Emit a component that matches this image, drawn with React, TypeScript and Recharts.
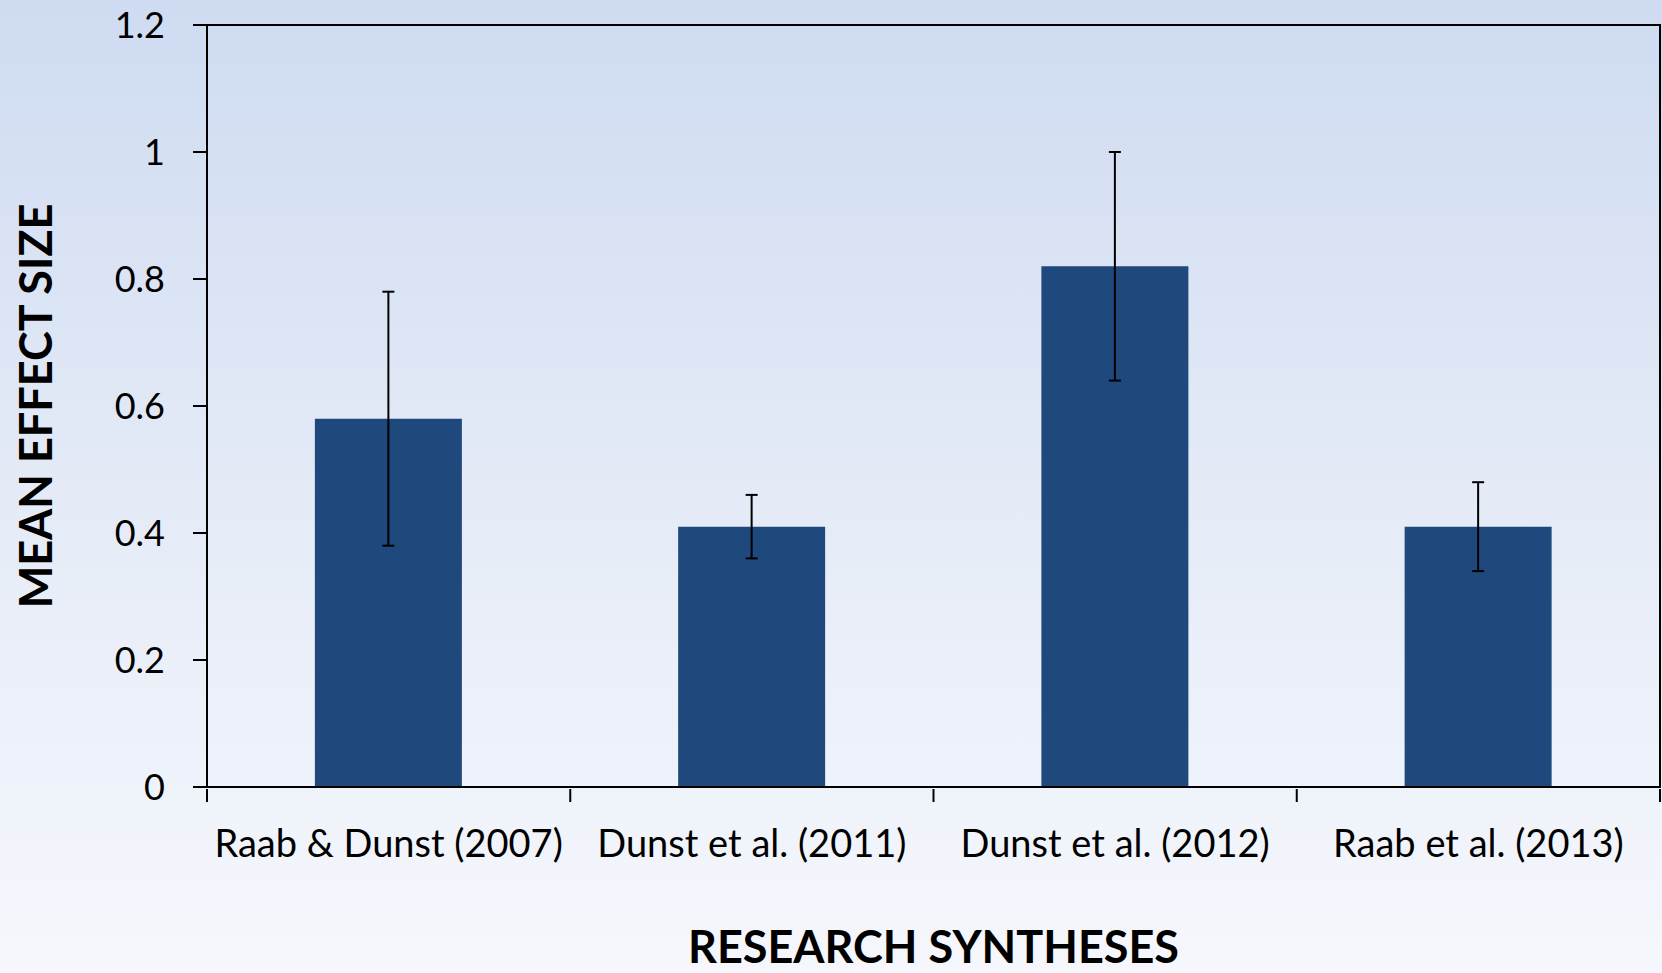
import React from 'react';
import { BarChart, Bar, XAxis, YAxis, ErrorBar, ReferenceArea, Label } from 'recharts';

// Mean effect sizes with confidence interval bounds per research synthesis
const studies = ['Raab & Dunst (2007)', 'Dunst et al. (2011)', 'Dunst et al. (2012)', 'Raab et al. (2013)'];
const meanEffect = [0.58, 0.41, 0.82, 0.41];
const ciLower = [0.38, 0.36, 0.64, 0.34];
const ciUpper = [0.78, 0.46, 1.0, 0.48];
const yTicks = [0, 0.2, 0.4, 0.6, 0.8, 1, 1.2];

const data = studies.map((name, i) => ({
  name,
  value: meanEffect[i],
  err: [meanEffect[i] - ciLower[i], ciUpper[i] - meanEffect[i]],
}));

const FONT = 'Lato, "Open Sans", sans-serif';

// category label plus tick marks on the band edges (Excel style)
function CategoryTick(props: any) {
  const { x, y, payload, index } = props;
  const half = payload?.offset ?? 0;
  return (
    <g>
      <line x1={x - half} y1={y} x2={x - half} y2={y + 13} stroke="#000" strokeWidth={2} />
      {index === studies.length - 1 && (
        <line x1={x + half} y1={y} x2={x + half} y2={y + 13} stroke="#000" strokeWidth={2} />
      )}
      <text x={x} y={y + 41} dy="0.71em" textAnchor="middle" fill="#000" fontSize={38} fontFamily={FONT}>
        {payload.value}
      </text>
    </g>
  );
}

export default function App() {
  return (
    <div
      style={{
        width: 1662,
        height: 973,
        background: 'linear-gradient(to bottom, #cedbf1 0%, #e6ecf7 55%, #f5f7fc 100%)',
        fontFamily: FONT,
      }}
    >
      <style>{'body { margin: 0; }'}</style>
      <BarChart
        width={1662}
        height={973}
        data={data}
        margin={{ top: 25, right: 2, left: 0, bottom: 0 }}
        barCategoryGap="29.7%"
      >
        <XAxis
          dataKey="name"
          height={186}
          tickSize={0}
          tickLine={false}
          axisLine={{ stroke: '#000', strokeWidth: 2 }}
          tick={<CategoryTick />}
          interval={0}
        >
          <Label
            value="RESEARCH SYNTHESES"
            position="insideBottom"
            offset={10}
            style={{ fontSize: 45, fontWeight: 700, fill: '#000', fontFamily: FONT }}
          />
        </XAxis>
        <YAxis
          width={207}
          domain={[0, 1.2]}
          ticks={yTicks}
          tickSize={14}
          tickMargin={28}
          axisLine={{ stroke: '#000', strokeWidth: 2 }}
          tickLine={{ stroke: '#000', strokeWidth: 2 }}
          tick={{ fill: '#000', fontSize: 36, fontFamily: FONT }}
        >
          <Label
            value="MEAN EFFECT SIZE"
            angle={-90}
            position="insideLeft"
            offset={36}
            style={{ fontSize: 45, fontWeight: 700, fill: '#000', fontFamily: FONT, textAnchor: 'middle' }}
          />
        </YAxis>
        <ReferenceArea
          x1={studies[0]}
          x2={studies[studies.length - 1]}
          y1={0}
          y2={1.2}
          fill="none"
          stroke="#000"
          strokeWidth={2}
          ifOverflow="visible"
        />
        <Bar dataKey="value" fill="#1f497d" isAnimationActive={false}>
          <ErrorBar dataKey="err" width={6} stroke="#000" strokeWidth={2} isAnimationActive={false} />
        </Bar>
      </BarChart>
    </div>
  );
}
